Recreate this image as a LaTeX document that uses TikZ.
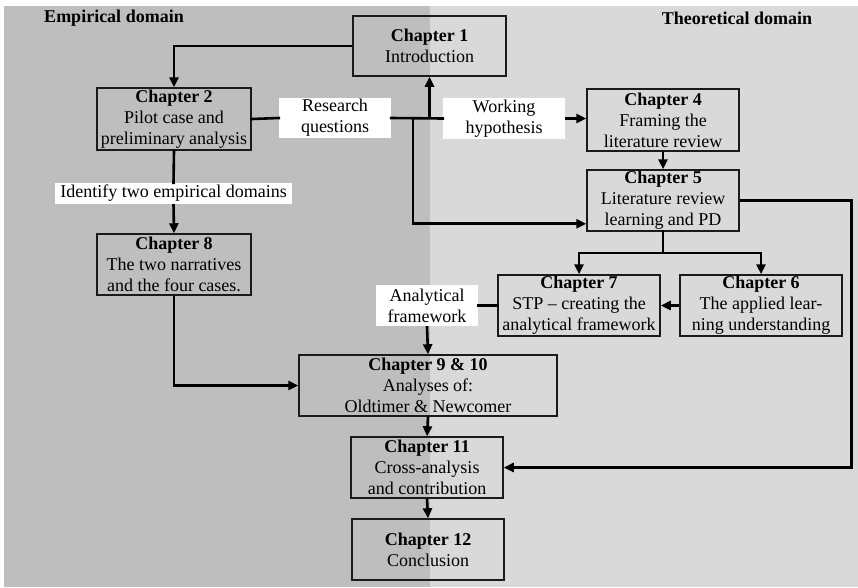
\documentclass[tikz,border=0pt]{standalone}
\usepackage{fontspec}
\setmainfont{Liberation Serif}
\usepackage{xcolor}
\usetikzlibrary{arrows.meta}

\definecolor{empgray}{HTML}{BEBEBE}
\definecolor{theogray}{HTML}{D9D9D9}
\definecolor{boxline}{HTML}{1A1A1A}

\begin{document}
\begin{tikzpicture}[x=1pt,y=-1pt]
    \tikzstyle{C}=[rectangle,draw=boxline,line width=1.5pt,inner sep=0pt,align=center,minimum height=61pt]
    \tikzstyle{T}=[rectangle,fill=white,inner sep=0pt,align=center]
    \tikzstyle{line}=[line width=2.6pt,line cap=rect]
    \tikzstyle{arr}=[line width=2.6pt,-{Triangle[length=10pt,width=9pt]}]

    \useasboundingbox (0,0) rectangle (858,587);
    \fontsize{18}{21}\selectfont

    % Two domains
    \fill [empgray] (4,6) rectangle (430,587);
    \fill [theogray] (430,6) rectangle (858,587);
    \node (empd) at (114,18) {\textbf{Empirical domain}};
    \node (theod) at (737,18) {\textbf{Theoretical domain}};

    % Chapters
    \node [C, minimum width=153pt, minimum height=60pt] (ch1) at (429.5,46) {\textbf{Chapter 1}\\Introduction};
    \node [C, minimum width=154pt, minimum height=62pt] (ch2) at (174,119) {\textbf{Chapter 2}\\Pilot case and\\preliminary analysis};
    \node [C, minimum width=154pt] (ch8) at (174,264.5) {\textbf{Chapter 8}\\The two narratives\\and the four cases.};
    \node [C, minimum width=152pt, minimum height=62pt] (ch4) at (663,120) {\textbf{Chapter 4}\\Framing the\\literature review};
    \node [C, minimum width=152pt] (ch5) at (663,200.5) {\textbf{Chapter 5}\\Literature review\\learning and PD};
    \node [C, minimum width=162pt] (ch7) at (579,305.5) {\textbf{Chapter 7}\\STP -- creating the\\analytical framework};
    \node [C, minimum width=162pt] (ch6) at (761,305.5) {\textbf{Chapter 6}\\The applied lear-\\ning understanding};
    \node [C, minimum width=258pt] (ch910) at (428,385.5) {\textbf{Chapter 9 \& 10}\\Analyses of:\\Oldtimer \& Newcomer};
    \node [C, minimum width=152pt] (ch11) at (427,467.5) {\textbf{Chapter 11}\\Cross-analysis\\and contribution};
    \node [C, minimum width=152pt] (ch12) at (428,549.5) {\textbf{Chapter 12}\\Conclusion};

    % Labels on the connectors
    \node [T, minimum width=112pt, minimum height=40pt] (rq) at (335,118) {Research\\questions};
    \node [T, minimum width=122pt, minimum height=41pt] (wh) at (504,118.5) {Working\\hypothesis};
    \node [T, minimum width=237pt, minimum height=21pt] (idf) at (173.5,193.5) {Identify two empirical domains};
    \node [T, minimum width=102pt, minimum height=41pt] (af) at (427,305.5) {Analytical\\framework};

    \coordinate (jb) at (413,119);
    \coordinate (j5) at (663,253);

    % Connectors
    \draw [arr] (ch1.west) -| (ch2.north);
    \draw [line] (ch2.east) -- (rq.west);
    \draw [line] (rq.east) -- (wh.west);
    \draw [arr] (ch1.south |- rq.east) -- (ch1.south);
    \draw [arr] (jb) |- ([yshift=8pt]ch5.south west);
    \draw [arr] (wh.east) -- (ch4.west |- wh.east);
    \draw [arr] (ch4.south) -- (ch5.north);
    \draw [line] (ch5.south) -- (j5);
    \draw [arr] (j5) -| (ch7.north);
    \draw [arr] (j5) -| (ch6.north);
    \draw [arr] (ch6.west) -- (ch7.east);
    \draw [line] (ch7.west) -- (af.east);
    \draw [arr] (af.south) -- (ch910.north);
    \draw [line] (ch2.south) -- (idf.north);
    \draw [arr] (idf.south) -- (ch8.north);
    \draw [arr] (ch8.south) |- (ch910.west);
    \draw [arr] (ch910.south) -- (ch11.north);
    \draw [arr] (ch11.south) -- (ch12.north);
    \draw [arr] (ch5.east) -- ++(112,0) |- (ch11.east);

\end{tikzpicture}
\end{document}
